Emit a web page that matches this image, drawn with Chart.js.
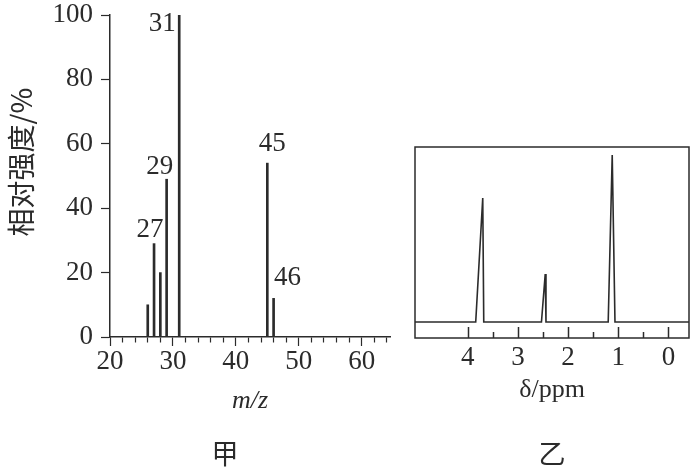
<!DOCTYPE html>
<html>
<head>
<meta charset="utf-8">
<script src="https://cdn.jsdelivr.net/npm/chart.js@4.4.1/dist/chart.umd.min.js"></script>
<style>
  body { margin: 0; background: #fff; width: 697px; height: 474px; position: relative; overflow: hidden; }
  canvas { position: absolute; top: 0; }
  #graficaMasas { left: 0; }
  #graficaRMN { left: 400px; }
</style>
</head>
<body>
<canvas id="graficaMasas" width="450" height="474"></canvas>
<canvas id="graficaRMN" width="297" height="474"></canvas>
<script>
// =================== Datos: espectro de masas (甲) ===================

// Valores m/z de cada pico y su intensidad relativa (%).
const mzValores = [26, 27, 28, 29, 31, 45, 46];
const intensidades = [10, 29, 20, 49, 100, 54, 12];

// Picos que llevan su número encima.
const mzEtiquetados = [27, 29, 31, 45, 46];

// Marcas del eje X (cada 2) y del eje Y.
const mzTicks = [20, 22, 24, 26, 28, 30, 32, 34, 36, 38, 40, 42, 44, 46, 48, 50, 52, 54, 56, 58, 60, 62, 64];
const intensidadTicks = [0, 20, 40, 60, 80, 100];

// =================== Datos: espectro RMN (乙) ===================

// Desplazamiento químico (ppm) y señal (unidades arbitrarias).
const deltaPpm = [5.05, 3.84, 3.70, 3.68, 2.53, 2.455, 2.44, 1.20, 1.12, 1.065, -0.41];
const senal = [0, 0, 12.4, 0, 0, 4.8, 0, 0, 16.7, 0, 0];

// Marcas del eje δ.
const ppmTicksMayores = [4, 3, 2, 1, 0];
const ppmTicksMenores = [3.5, 2.5, 1.5, 0.5];

// =================== Estilo ===================

const TINTA = "#2b2b2b";
const SERIF = "'Liberation Serif', 'DejaVu Serif', serif";
const CJK = "'Noto Sans CJK SC', sans-serif";

// desplazamiento [dx, dy] de cada número respecto a la punta de su barra
const POSICION_ETIQUETAS = {
  27: [-4, -14],
  29: [-7, -12],
  31: [-17, 9],
  45: [5, -19],
  46: [14, -20]
};

// =================== Plugins ===================

// Escribe el valor m/z encima de los picos marcados.
const etiquetasPicos = {
  id: "etiquetasPicos",
  afterDatasetsDraw(chart) {
    const meta = chart.getDatasetMeta(0);
    const ctx = chart.ctx;
    ctx.save();
    ctx.font = `27px ${SERIF}`;
    ctx.fillStyle = TINTA;
    ctx.textAlign = "center";
    ctx.textBaseline = "middle";
    mzValores.forEach((mz, i) => {
      if (!mzEtiquetados.includes(mz)) return;
      const barra = meta.data[i];
      const [dx, dy] = POSICION_ETIQUETAS[mz];
      ctx.fillText(String(mz), barra.x + dx, barra.y + dy);
    });
    ctx.restore();
  }
};

// Marco del RMN y marcas hacia dentro en el eje δ.
const marcoRMN = {
  id: "marcoRMN",
  afterDraw(chart) {
    const { ctx, chartArea: a } = chart;
    const x = chart.scales.x;
    ctx.save();
    ctx.strokeStyle = TINTA;
    ctx.lineWidth = 1.5;
    ctx.strokeRect(a.left, a.top, a.right - a.left, a.bottom - a.top);
    const marca = (v, largo) => {
      const px = Math.round(x.getPixelForValue(v)) + 0.5;
      ctx.beginPath();
      ctx.moveTo(px, a.bottom);
      ctx.lineTo(px, a.bottom - largo);
      ctx.stroke();
    };
    ppmTicksMayores.forEach(v => marca(v, 11));
    ppmTicksMenores.forEach(v => marca(v, 6));
    ctx.restore();
  }
};

// =================== Gráfica 甲 ===================

new Chart(document.getElementById("graficaMasas"), {
  type: "bar",
  data: {
    datasets: [{
      data: mzValores.map((mz, i) => ({ x: mz, y: intensidades[i] })),
      backgroundColor: TINTA,
      barThickness: 2
    }]
  },
  options: {
    responsive: false,
    animation: false,
    layout: { padding: { top: 15, right: 0, left: 0, bottom: 0 } },
    plugins: {
      legend: { display: false },
      tooltip: { enabled: false },
      title: {
        display: true,
        text: "甲",
        position: "bottom",
        color: TINTA,
        font: { family: CJK, size: 27, weight: "normal" },
        padding: { top: 8, bottom: 4 }
      }
    },
    scales: {
      x: {
        type: "linear",
        offset: false,
        min: 20,
        max: 64.5,
        afterBuildTicks: (s) => { s.ticks = mzTicks.map(v => ({ value: v })); },
        afterFit: (s) => { s.height = 92.6; s.paddingLeft = 0; s.paddingRight = 0; },
        border: { color: TINTA, width: 1.5 },
        grid: {
          offset: false,
          drawOnChartArea: false,
          color: TINTA,
          tickLength: 9,
          tickWidth: 1.2,
          tickBorderDash: (c) => (c.tick && c.tick.value % 10 === 0) ? [] : [5, 100]
        },
        ticks: {
          autoSkip: false,
          maxRotation: 0,
          padding: 0,
          color: TINTA,
          font: { family: SERIF, size: 27 },
          callback: (v) => (v % 10 === 0 ? v : "")
        },
        title: {
          display: true,
          text: "m/z",
          color: TINTA,
          font: { family: SERIF, size: 26, style: "italic" },
          padding: { top: 0, bottom: 13 }
        }
      },
      y: {
        min: 0,
        max: 100,
        afterBuildTicks: (s) => { s.ticks = intensidadTicks.map(v => ({ value: v })); },
        afterFit: (s) => { s.width = 110; s.paddingTop = 0; s.paddingBottom = 0; },
        border: { color: TINTA, width: 1.5 },
        grid: { drawOnChartArea: false, color: TINTA, tickLength: 9, tickWidth: 1.2 },
        ticks: {
          padding: 8,
          color: TINTA,
          font: { family: SERIF, size: 27 }
        },
        title: {
          display: true,
          text: "\u3000相对强度/%",
          color: TINTA,
          font: { family: CJK, size: 28, weight: "normal" },
          padding: { top: 5, bottom: 0 }
        }
      },
      // eje vacío a la derecha: deja sitio libre y centra 甲 en el lienzo
      hueco: {
        position: "right",
        display: true,
        grid: { display: false },
        border: { display: false },
        ticks: { display: false },
        afterFit: (s) => { s.width = 60; s.paddingTop = 0; s.paddingBottom = 0; }
      }
    }
  },
  plugins: [etiquetasPicos]
});

// =================== Gráfica 乙 ===================

new Chart(document.getElementById("graficaRMN"), {
  type: "line",
  data: {
    datasets: [{
      data: deltaPpm.map((d, i) => ({ x: d, y: senal[i] })),
      borderColor: TINTA,
      borderWidth: 1.6,
      pointRadius: 0,
      tension: 0
    }]
  },
  options: {
    responsive: false,
    animation: false,
    layout: { padding: { top: 147, right: 8, left: 15, bottom: 0 } },
    plugins: {
      legend: { display: false },
      tooltip: { enabled: false },
      title: {
        display: true,
        text: "乙",
        position: "bottom",
        color: TINTA,
        font: { family: CJK, size: 27, weight: "normal" },
        padding: { top: 8, bottom: 4 }
      }
    },
    scales: {
      x: {
        type: "linear",
        reverse: true,
        min: -0.41,
        max: 5.05,
        afterBuildTicks: (s) => { s.ticks = ppmTicksMayores.map(v => ({ value: v })); },
        afterFit: (s) => { s.height = 91.6; },
        border: { display: false },
        grid: { display: false },
        ticks: {
          autoSkip: false,
          maxRotation: 0,
          padding: -4,
          color: TINTA,
          font: { family: SERIF, size: 27 }
        },
        title: {
          display: true,
          text: "δ/ppm",
          color: TINTA,
          font: { family: SERIF, size: 26 },
          padding: { top: 0, bottom: 24 }
        }
      },
      y: {
        display: false,
        min: -1.6,
        max: 17.5
      }
    }
  },
  plugins: [marcoRMN]
});
</script>
</body>
</html>
